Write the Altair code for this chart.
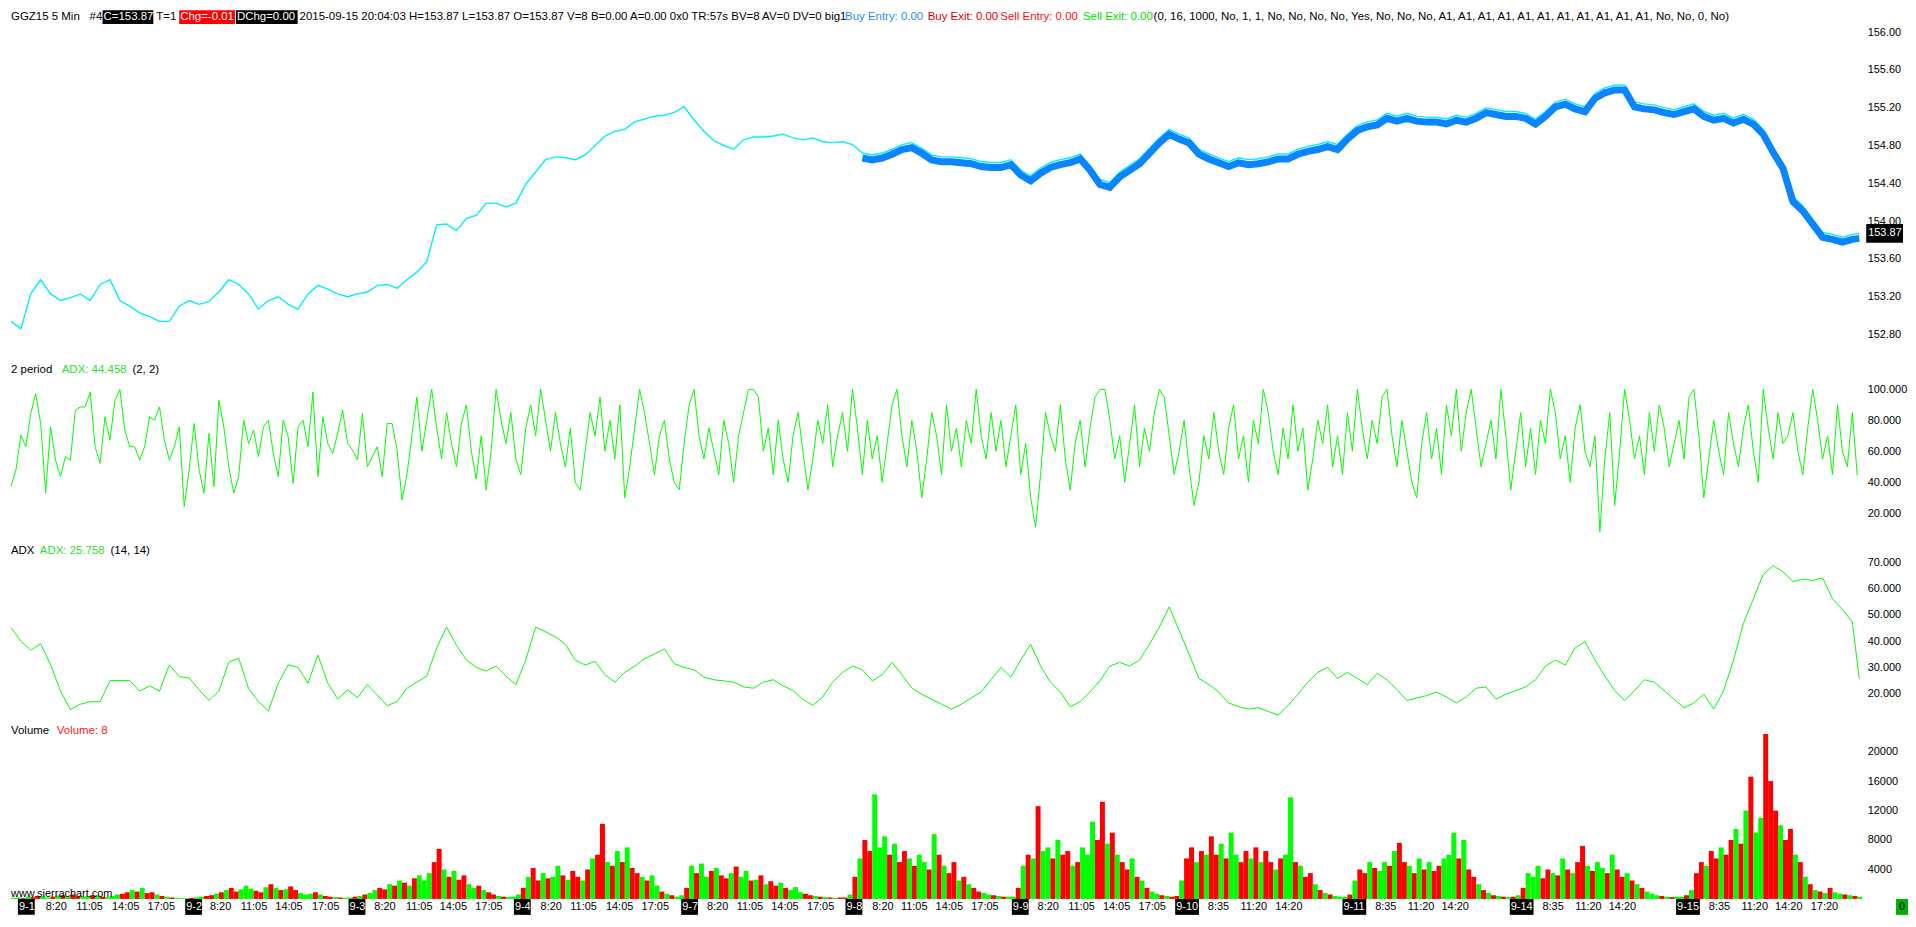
import altair as alt
import pandas as pd

# ---------------- data ----------------
# close price sampled every 10 five-minute bars (bar index 0 .. 1860) + last bar 1867
price_close = [
    152.94, 152.86, 153.23, 153.38, 153.23, 153.16, 153.19, 153.23, 153.16, 153.33,
    153.38, 153.16, 153.10, 153.03, 152.99, 152.94, 152.94, 153.10, 153.16, 153.12,
    153.15, 153.25, 153.38, 153.33, 153.23, 153.07, 153.16, 153.20, 153.12, 153.07,
    153.23, 153.32, 153.28, 153.23, 153.20, 153.23, 153.25, 153.32, 153.33, 153.29,
    153.38, 153.46, 153.57, 153.96, 153.97, 153.90, 154.03, 154.06, 154.19, 154.19,
    154.15, 154.19, 154.39, 154.52, 154.65, 154.68, 154.67, 154.65, 154.70, 154.80,
    154.90, 154.95, 154.97, 155.05, 155.08, 155.11, 155.12, 155.15, 155.21, 155.07,
    154.95, 154.85, 154.80, 154.76, 154.86, 154.89, 154.89, 154.90, 154.92, 154.88,
    154.86, 154.88, 154.84, 154.83, 154.84, 154.81, 154.72, 154.70, 154.72, 154.76,
    154.81, 154.83, 154.77, 154.70, 154.68, 154.68, 154.67, 154.66, 154.63, 154.62,
    154.62, 154.65, 154.54, 154.48, 154.56, 154.62, 154.65, 154.67, 154.71, 154.59,
    154.44, 154.41, 154.52, 154.59, 154.66, 154.77, 154.88, 154.97, 154.92, 154.88,
    154.76, 154.71, 154.67, 154.63, 154.67, 154.65, 154.66, 154.68, 154.71, 154.71,
    154.76, 154.79, 154.81, 154.84, 154.81, 154.92, 155.01, 155.05, 155.07, 155.14,
    155.11, 155.14, 155.11, 155.10, 155.10, 155.08, 155.12, 155.10, 155.14, 155.20,
    155.18, 155.16, 155.16, 155.14, 155.08, 155.16, 155.26, 155.29, 155.24, 155.21,
    155.35, 155.41, 155.44, 155.44, 155.26, 155.24, 155.23, 155.20, 155.18, 155.21,
    155.24, 155.16, 155.12, 155.14, 155.09, 155.13, 155.08, 154.97, 154.78, 154.61,
    154.26, 154.16, 154.02, 153.88, 153.86, 153.83, 153.86,
    153.87,
]

# 2-period ADX sampled every 5 bars (bar 0 .. 1865)
adx2 = [
    37.2, 47.9, 70.4, 62.9, 84.4, 97.2, 77.9, 32.9, 75.8, 54.3,
    43.6, 56.5, 54.3, 86.5, 88.6, 88.6, 98.3, 62.9, 52.2, 82.2,
    67.2, 92.9, 100, 73.6, 62.9, 62.9, 54.3, 62.9, 82.2, 80.1,
    88.6, 67.2, 54.3, 62.9, 75.8, 24.3, 47.9, 77.9, 47.9, 32.9,
    71.5, 37.2, 92.9, 75.8, 50, 32.9, 43.6, 80.1, 65, 73.6,
    56.5, 75.8, 80.1, 58.6, 43.6, 80.1, 69.3, 39.3, 75.8, 80.1,
    62.9, 98.3, 43.6, 82.2, 65, 58.6, 71.5, 86.5, 65, 60.7,
    54.3, 84.4, 50, 56.5, 62.9, 43.6, 77.9, 77.9, 60.7, 28.6,
    45, 70, 95, 60, 80, 100, 75, 55, 85, 65, 50, 78, 90, 60, 42, 70, 35, 60, 100, 80,
    65, 85, 55, 45, 75, 90, 70, 100, 80, 60, 85, 65, 50, 75, 40, 35, 60, 85, 70, 95,
    60, 80, 55, 90, 30, 50, 75, 100, 85, 65, 45, 70, 80, 55, 40, 35, 65, 90, 100, 70,
    55, 75, 60, 45, 80, 65, 40, 70, 85, 100, 100, 95, 60, 75, 45, 80, 55, 40, 70, 85,
    60, 35, 55, 80, 65, 90, 50, 70, 85, 60, 100, 75, 45, 80, 55, 70, 40, 65, 90, 100,
    70, 50, 80, 60, 30, 55, 85, 70, 45, 90, 60, 75, 50, 80, 65, 100, 70, 55, 85, 60,
    80, 50, 70, 90, 45, 65, 30, 11, 45, 85, 70, 60, 90, 55, 35, 65, 80, 50, 75, 95,
    100, 100, 80, 55, 70, 40, 65, 90, 50, 75, 60, 85, 100, 95, 70, 45, 60, 80, 50, 25,
    40, 70, 55, 85, 60, 45, 75, 90, 55, 70, 40, 80, 65, 100, 85, 60, 45, 75, 55, 90,
    60, 75, 35, 55, 80, 65, 90, 50, 70, 45, 85, 60, 100, 75, 55, 80, 65, 95, 100, 70,
    50, 80, 60, 40, 30, 65, 85, 55, 75, 45, 90, 70, 100, 60, 85, 100, 75, 50, 65, 80,
    55, 100, 70, 35, 60, 85, 50, 75, 45, 80, 65, 100, 85, 55, 70, 40, 75, 90, 60, 50,
    70, 8, 55, 85, 25, 60, 100, 80, 55, 70, 45, 85, 60, 90, 75, 50, 65, 80, 55, 95,
    100, 70, 30, 55, 80, 60, 45, 85, 65, 50, 75, 90, 60, 40, 100, 75, 55, 85, 65, 70,
    85, 60, 45, 75, 100, 80, 55, 70, 45, 90, 60, 50, 85, 44.458,
]

# 14-period ADX sampled every 10 bars (bar 0 .. 1860) + last bar 1867
adx14 = [
    45.1, 40, 36.5, 39, 31, 21, 14, 16, 17, 17,
    25, 25, 25, 21, 23, 21, 31, 26.5, 26, 21.5,
    17.5, 21, 32, 33.5, 22, 17, 13.5, 24, 31, 30,
    24, 34.7, 24, 18, 21.5, 18.5, 23.5, 19.5, 15.5, 17,
    22.1, 24.4, 26.7, 37.4, 45.3, 38.4, 32.8, 30, 28.6, 30.5,
    26.7, 23.5, 32.8, 45.3, 43.5, 41.6, 38.8, 32.8, 30.9, 32.3,
    27.2, 24.4, 28.1, 30.5, 33.3, 35.1, 37, 31.4, 30, 29.1,
    26.3, 25.3, 24.9, 24.4, 22.6, 22.1, 24.4, 25.3, 23, 21.2,
    17.9, 15.6, 18.8, 24.4, 28.1, 30.5, 29.1, 24.9, 27.2, 31.9,
    27.2, 22.1, 19.8, 17.9, 16, 14.2, 16, 18.4, 20.7, 25.3,
    30, 26.3, 32.8, 38.8, 30.5, 24.4, 20.7, 15.1, 17, 20.7,
    24.9, 30.5, 31.9, 30.5, 32.8, 38.8, 45.3, 53, 44, 35.1,
    25.8, 23.5, 20.7, 16.5, 15.1, 14.2, 14.7, 13.3, 11.9, 15.6,
    19.8, 24.4, 28.1, 30, 25.8, 28.1, 25.8, 23.5, 27.7, 25.3,
    21.6, 17.4, 18.4, 19.3, 20.7, 18.8, 16.5, 18.8, 22.1, 22.6,
    17.9, 19.8, 21.2, 22.6, 25.3, 30.5, 32.8, 30.9, 37.4, 39.8,
    32.8, 26.7, 21.2, 17.4, 21.2, 25.3, 24.4, 21.2, 17.9, 14.7,
    16.5, 19.8, 14.2, 21.2, 32.8, 46.7, 56, 65.3, 68.6, 66.3,
    62.6, 63.5, 63, 64, 56, 52, 47.3,
    25.758,
]

# volume per 5-bar slot, one list per session, with up (g) / down (r) colouring
volume_days = [
    ([150, 200, 120, 300, 250, 400, 350, 200, 300, 450, 500, 400, 600, 350, 300, 400, 500, 450, 300, 250,
      400, 600, 700, 900, 1200, 1000, 1500, 800, 900, 600, 400, 300, 200, 150, 120],
     "ggrgrrggrgrgrrggrgrgggrrgrgrrgrgrggrgrg"),
    ([100, 150, 200, 300, 400, 500, 700, 900, 1200, 1500, 1000, 1300, 1800, 1400, 1100, 900, 1600, 2000, 1500, 1200,
      1300, 1700, 1200, 800, 600, 700, 900, 600, 400, 300, 250, 200, 150],
     "grggrrgrgrrgggrrgrgrgrrgggrgrrgrgggrr"),
    ([200, 300, 400, 600, 800, 1200, 1500, 1300, 2000, 1800, 2500, 2200, 1800, 2800, 3200, 2500, 3500, 5000, 6800, 4000,
      3000, 3800, 2600, 3200, 2000, 1500, 1800, 1200, 900, 600, 400, 300, 250],
     "grgrggrrgrgrgrgggrrgrgrrggrgrrgrggr"),
    ([300, 600, 1500, 3000, 4200, 2500, 3500, 2800, 3000, 4500, 3200, 2600, 3800, 3000, 2500, 4000, 5500, 6000, 10200, 5000,
      4500, 6500, 5000, 7000, 4200, 3500, 3000, 2500, 3200, 1800, 1000, 700, 500, 300],
     "ggrgrrgrggrgrrgrgrrgrgrgrrgrggrgrgrg"),
    ([500, 1500, 4500, 3500, 4800, 3000, 3800, 4200, 3200, 2800, 3500, 4400, 3000, 3800, 2500, 2600, 3200, 2000, 2400, 1800,
      2200, 1500, 1200, 1600, 900, 700, 500, 400, 300, 250, 200, 150, 200],
     "grgrggrgrrgrggrgrgrrgrgggrrgrgrgrgg"),
    ([200, 600, 3000, 5500, 8000, 6500, 14200, 7000, 8500, 6000, 7500, 5000, 6500, 5500, 4500, 6000, 5000, 4000, 8800, 6000,
      4500, 3500, 5000, 2500, 3000, 2000, 1500, 1000, 800, 600, 500, 400, 300, 300],
     "rgrgrrgggrgrrgrggrgrgrrgrgrrggrgrgrg"),
    ([300, 1500, 4500, 6000, 5500, 12600, 6500, 7000, 5500, 8000, 6000, 6500, 4500, 5000, 7000, 6000, 10500, 8000, 13200, 7500,
      9000, 6000, 5000, 4000, 5500, 3000, 2500, 1500, 1000, 700, 500, 400, 300],
     "grgrgrggrgrrgrgggrrgrgrrgrgrggrgrgg"),
    ([400, 2500, 5500, 7000, 5000, 6500, 6000, 8500, 6000, 7500, 5500, 9000, 6000, 5000, 6500, 5500, 7000, 5000, 6500, 5000,
      4000, 5500, 6000, 13800, 5000, 4500, 3000, 3500, 2000, 1200, 800, 600, 400, 300],
     "rgrrgrgrrgrggrrgrgrrgrggrgrrgrgrggrg"),
    ([300, 600, 2500, 4000, 3500, 5000, 4200, 3800, 5000, 4500, 6500, 7600, 5000, 4500, 3500, 5500, 4000, 5000, 3800, 4500,
      5500, 6000, 9000, 5500, 8000, 4000, 3000, 2000, 1200, 800, 500, 400, 300, 250],
     "grgrrgrggrgrrgrgrgrrgggrgrrgrgrgrgrg"),
    ([300, 500, 1500, 3500, 3000, 4500, 2800, 4000, 3500, 3200, 5500, 4000, 3500, 5000, 7200, 4500, 3800, 5000, 4200, 3500,
      6000, 4000, 3000, 3500, 2500, 2000, 1500, 1000, 700, 500, 400, 300, 250, 300],
     "rgrgggrrgrgrgrrgrggrgrrgrgrgggrgrgrr"),
    ([300, 500, 1200, 3500, 5000, 4500, 6500, 5500, 7000, 6000, 8000, 9500, 7500, 12000, 16600, 9000, 11000, 22400, 16000, 12000,
      10000, 8000, 9500, 6000, 5000, 3000, 2000, 1200, 1000, 800, 1500, 900, 700, 600, 500, 400, 300],
     "grgrrgrrgrrgrgrggrrrgrrgrgrgrgrggrgrgrgr"),
]

DATE_LABELS = ["9-1", "9-2", "9-3", "9-4", "9-7", "9-8", "9-9", "9-10", "9-11", "9-14", "9-15"]
DATE_BARS = [7, 176, 341, 508, 677, 843, 1011, 1176, 1345, 1514, 1682]
TIME_LABELS = (["8:20", "11:05", "14:05", "17:05"] * 7
               + ["8:35", "11:20", "14:20"] * 4 + ["17:20"])
TIME_BARS = [35, 66, 102, 138, 201, 232, 267, 304, 367, 399, 433, 469,
             535, 565, 601, 637, 703, 733, 768, 804, 870, 899, 934, 970,
             1037, 1068, 1103, 1139, 1209, 1242, 1277, 1378, 1411, 1445,
             1547, 1580, 1614, 1715, 1748, 1782, 1818]

PRICE_TICKS = [152.8, 153.2, 153.6, 154.0, 154.4, 154.8, 155.2, 155.6, 156.0]
ADX2_TICKS = [20, 40, 60, 80, 100]
ADX14_TICKS = [10, 20, 30, 40, 50, 60, 70]
VOL_TICKS = [4000, 8000, 12000, 16000, 20000]
BLUE_START_BAR = 860
LAST_BAR = 1867

# ---------------- tables ----------------
price_bars = [10 * i for i in range(len(price_close) - 1)] + [LAST_BAR]
price_df = pd.DataFrame({"bar": price_bars, "price": price_close})
adx14_df = pd.DataFrame({"bar": [10 * i for i in range(len(adx14) - 1)] + [LAST_BAR], "v": adx14})
adx2_df = pd.DataFrame({"bar": [5 * i for i in range(len(adx2))], "v": adx2})
vols, cols = [], []
for vals, cstr in volume_days:
    vols += vals
    cols += list(cstr[:len(vals)])
vol_df = pd.DataFrame({"bar": [5 * i for i in range(len(vols))], "vol": vols, "c": cols})
date_df = pd.DataFrame({"bar": DATE_BARS, "label": DATE_LABELS})
time_df = pd.DataFrame({"bar": TIME_BARS, "label": TIME_LABELS})
last_df = pd.DataFrame({"price": [price_close[-1]], "label": [f"{price_close[-1]:.2f}"]})
ONE = pd.DataFrame({"k": [0]})

# ---------------- layout ----------------
W = 1860
XMAX = 1870
H_PRICE, H_ADX2, H_ADX14, H_VOL, H_AXIS = 350, 181, 181, 181, 16
FONT = "Liberation Sans"
HFS = 11.5
GREEN = "#00FF00"
RED = "#FF0000"


def xenc(field="bar"):
    return alt.X(f"{field}:Q", scale=alt.Scale(domain=[0, XMAX], nice=False, zero=False), axis=None)


def yaxis(values, fmt):
    return alt.Axis(orient="right", values=values, format=fmt, domain=False, ticks=False, grid=False,
                    labelFont=FONT, labelFontSize=11, labelColor="#000000", labelPadding=5,
                    title=None, labelOverlap=False, labelFlush=False)


def txt(text, x, y, color="#000000", size=HFS, align="left"):
    return alt.Chart(ONE).mark_text(font=FONT, fontSize=size, align=align, baseline="middle").encode(
        x=alt.value(x), y=alt.value(y), text=alt.value(text), color=alt.value(color))


def box(x, x2, y, y2, color):
    return alt.Chart(ONE).mark_rect().encode(
        x=alt.value(x), x2=alt.value(x2), y=alt.value(y), y2=alt.value(y2), color=alt.value(color))


# ---- price panel ----
PDOM = [152.547, 156.2316]
yp = alt.Y("price:Q", scale=alt.Scale(domain=PDOM, nice=False, zero=False), axis=yaxis(PRICE_TICKS, ".2f"))
cyan = alt.Chart(price_df).mark_line(color="#00F0FF", strokeWidth=1.4).encode(x=xenc(), y=yp)
blue = (alt.Chart(price_df).transform_filter(alt.datum.bar >= BLUE_START_BAR)
        .mark_line(color="#0A84FF", strokeWidth=7, yOffset=5).encode(x=xenc(), y=yp))
yp_hi = alt.Y("hi:Q", scale=alt.Scale(domain=PDOM, nice=False, zero=False), axis=yaxis(PRICE_TICKS, ".2f"))
last_box = (alt.Chart(last_df).transform_calculate(hi="datum.price + 0.1", lo="datum.price - 0.1")
            .mark_rect(color="#000000").encode(x=alt.value(W + 4), x2=alt.value(W + 41), y=yp_hi, y2="lo:Q"))
last_txt = (alt.Chart(last_df).mark_text(font=FONT, fontSize=11, align="left", baseline="middle", color="#FFFFFF")
            .encode(x=alt.value(W + 6), y=yp, text="label:N"))

HY = 7
header = [
    txt("GGZ15", 0, HY), txt("5 Min", 41, HY), txt("#4", 79, HY),
    box(92, 143, 0, 14, "#000000"), txt("C=153.87", 93, HY, "#FFFFFF"),
    txt("T=1", 146, HY),
    box(169, 225, 0, 14, "#FF0000"), txt("Chg=-0.01", 170, HY, "#FFFFFF"),
    box(226, 288, 0, 14, "#000000"), txt("DChg=0.00", 227, HY, "#FFFFFF"),
    txt("2015-09-15 20:04:03 H=153.87 L=153.87 O=153.87 V=8 B=0.00", 290, HY),
    txt("A=0.00 0x0 TR:57s BV=8 AV=0 DV=0 big1", 622, HY),
    txt("Buy Entry: 0.00", 838, HY, "#1E90FF"),
    txt("Buy Exit: 0.00", 921, HY, "#E00000"),
    txt("Sell Entry: 0.00", 994, HY, "#FF1010"),
    txt("Sell Exit: 0.00", 1077, HY, "#00E000"),
    txt("(0, 16, 1000, No, 1, 1, No, No, No, No, Yes, No, No, No, A1, A1, A1, A1, A1, A1, A1, A1, A1, A1, A1, No, No, 0, No)",
        1148, HY),
]
price_panel = alt.layer(cyan, blue, last_box, last_txt, *header).properties(width=W, height=H_PRICE)

# ---- ADX(2) panel ----
y2p = alt.Y("v:Q", scale=alt.Scale(domain=[3.54, 119.94], nice=False, zero=False), axis=yaxis(ADX2_TICKS, ".3f"))
adx2_line = alt.Chart(adx2_df).mark_line(color=GREEN, strokeWidth=1).encode(x=xenc(), y=y2p)
adx2_panel = alt.layer(
    adx2_line,
    txt("2 period", 0, 12), txt("ADX: 44.458", 51, 12, "#2EE02E"), txt("(2, 2)", 122, 12),
).properties(width=W, height=H_ADX2)

# ---- ADX(14) panel ----
y14 = alt.Y("v:Q", scale=alt.Scale(domain=[10.5, 78.88], nice=False, zero=False), axis=yaxis(ADX14_TICKS, ".3f"))
adx14_line = alt.Chart(adx14_df).mark_line(color=GREEN, strokeWidth=1).encode(x=xenc(), y=y14)
adx14_panel = alt.layer(
    adx14_line,
    txt("ADX", 0, 12), txt("ADX: 25.758", 29, 12, "#2EE02E"), txt("(14, 14)", 100, 12),
).properties(width=W, height=H_ADX14)

# ---- volume panel ----
vol_bars = (alt.Chart(vol_df).transform_calculate(end="datum.bar + 5", base="0")
            .mark_rect().encode(
                x=xenc(), x2="end:Q",
                y=alt.Y("vol:Q", scale=alt.Scale(domain=[0, 24460], nice=False), axis=yaxis(VOL_TICKS, "d")),
                y2="base:Q",
                color=alt.Color("c:N", scale=alt.Scale(domain=["g", "r"], range=[GREEN, RED]), legend=None)))
vol_panel = alt.layer(
    vol_bars,
    txt("Volume", 0, 12), txt("Volume: 8", 46, 12, "#FF2020"),
    txt("www.sierrachart.com", 0, H_VOL - 5, size=11),
).properties(width=W, height=H_VOL)

# ---- time scale panel ----
date_box = (alt.Chart(date_df).transform_calculate(end="datum.bar + 7 * length(datum.label) - 4")
            .mark_rect(color="#000000").encode(x=xenc(), x2="end:Q", y=alt.value(0), y2=alt.value(H_AXIS)))
date_txt = (alt.Chart(date_df).mark_text(font=FONT, fontSize=11, align="left", baseline="middle",
                                         color="#FFFFFF", dx=1)
            .encode(x=xenc(), y=alt.value(H_AXIS / 2), text="label:N"))
time_txt = (alt.Chart(time_df).mark_text(font=FONT, fontSize=11, align="left", baseline="middle", color="#000000")
            .encode(x=xenc(), y=alt.value(H_AXIS / 2), text="label:N"))
axis_panel = alt.layer(
    date_box, date_txt, time_txt,
    box(W + 34, W + 46, 0, H_AXIS, "#00B000"), txt("0", W + 40, H_AXIS / 2, "#000000", 11, "center"),
).properties(width=W, height=H_AXIS)

chart = (alt.vconcat(price_panel, adx2_panel, adx14_panel, vol_panel, axis_panel, spacing=0)
         .properties(padding=0, background="#FFFFFF")
         .configure_view(stroke=None))

chart.save("out.html", embed_options={"renderer": "svg", "actions": False})
